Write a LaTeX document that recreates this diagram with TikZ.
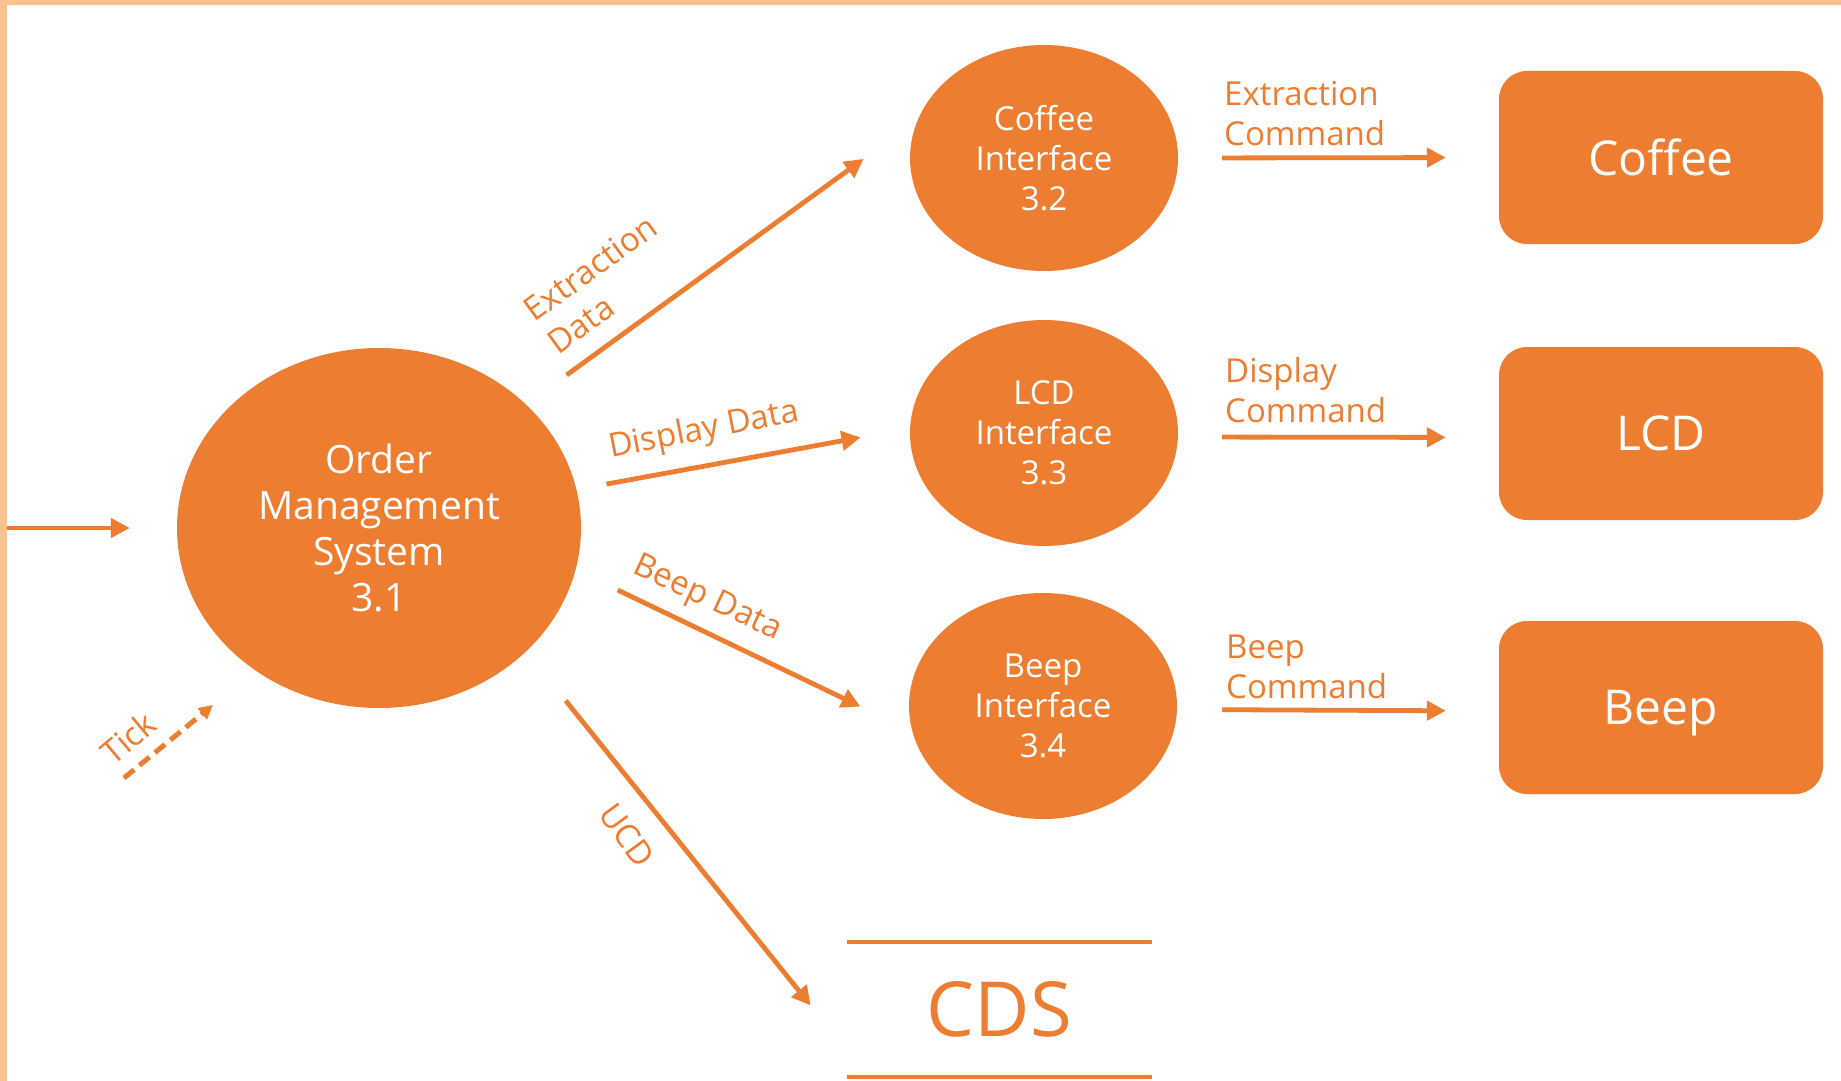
\documentclass[tikz,border=0pt]{standalone}
\usepackage{fontspec}
\setmainfont{Open Sans}
\usetikzlibrary{shapes.geometric,arrows.meta}
\definecolor{org}{HTML}{ED7D31}
\definecolor{frm}{HTML}{FBC18F}
\begin{document}
\begin{tikzpicture}[x=1pt,y=-1pt,
  proc/.style={ellipse, fill=org, text=white, inner sep=0pt, align=center},
  ent/.style={rectangle, rounded corners=28pt, fill=org, text=white, minimum width=324pt, minimum height=173pt, inner sep=0pt, text depth=0pt, font=\fontsize{48}{58}\selectfont},
  flow/.style={draw=org, line width=4.8pt, -{Triangle[length=19pt,width=19pt]}},
  tickflow/.style={draw=org, line width=5pt, dash pattern=on 13pt off 7pt, -{Triangle[length=14pt,width=14pt]}},
  lbl/.style={text=org, font=\fontsize{33}{40}\selectfont, inner sep=0pt},
]
\useasboundingbox (0,0) rectangle (1841,1081);
\fill[white] (0,0) rectangle (1841,1081);
\fill[frm] (0,0) rectangle (1841,5);
\fill[frm] (0,0) rectangle (7,1081);

% processes
\node[proc, minimum width=404pt, minimum height=360pt, font=\fontsize{39}{46.3}\selectfont] (oms) at (379,528) {Order\\Management\\System\\3.1};
\node[proc, minimum width=268pt, minimum height=226pt, font=\fontsize{33}{40}\selectfont] (ci) at (1044,158) {Coffee\\Interface\\3.2};
\node[proc, minimum width=268pt, minimum height=226pt, font=\fontsize{33}{40}\selectfont] (li) at (1044,433) {LCD\\Interface\\3.3};
\node[proc, minimum width=268pt, minimum height=226pt, font=\fontsize{33}{40}\selectfont] (bi) at (1043,706) {Beep\\Interface\\3.4};

% external entities
\node[ent] (cbox) at (1661,157.5) {Coffee};
\node[ent] (lbox) at (1661,433.5) {LCD};
\node[ent] (bbox) at (1661,707.5) {Beep};

% data store
\node[minimum width=305pt, minimum height=135pt, inner sep=0pt, text=org, font=\fontsize{76}{90}\selectfont] (cds) at (999.5,1009.5) {CDS};
\draw[org, line width=4pt] (cds.north west) -- (cds.north east) (cds.south west) -- (cds.south east);

% flows from OMS
\draw[flow, shorten <=50pt, shorten >=67pt] (oms.40.8) -- (ci.163.3);
\draw[flow, shorten <=30.5pt, shorten >=50.2pt] (oms.11.7) -- (li.178);
\draw[flow, shorten <=46.7pt, shorten >=57.4pt] (oms.-12.7) -- (bi.191.5);
\draw[flow, shorten <=63pt, shorten >=57.6pt] (oms.-40.2) -- (cds.195.9);

% flows to entities
\draw[flow, shorten <=44pt, shorten >=53pt] (ci.east) -- (cbox.west);
\draw[flow, shorten <=44pt, shorten >=53pt] ([yshift=-4pt]li.east) -- ([yshift=-4pt]lbox.west);
\draw[flow, shorten <=45pt, shorten >=53pt] ([yshift=-3.5pt]bi.east) -- ([yshift=-3.5pt]bbox.west);

% inputs
\coordinate (inA) at (7,528);
\draw[flow, shorten >=47pt] (inA) -- (oms.west);
\coordinate (tk) at (124,778);
\draw[tickflow, shorten >=54.5pt] (tk) -- (oms.229.9);

% labels
\node[lbl, align=left, anchor=base west] (lx) at (1224,145) {Extraction\\Command};
\node[lbl, align=left, anchor=base west] (ld) at (1225,422) {Display\\Command};
\node[lbl, align=left, anchor=base west] (lb) at (1226,698) {Beep\\Command};
\node[lbl, align=left, rotate=36] (led) at (602,284) {Extraction\\Data};
\node[lbl, rotate=11] (ldd) at (704,431) {Display Data};
\node[lbl, rotate=-25] (lbd) at (707,599) {Beep Data};
\node[lbl, rotate=-54] (lucd) at (627,835) {UCD};
\node[lbl, rotate=40] (ltick) at (128,738) {Tick};
\end{tikzpicture}
\end{document}
